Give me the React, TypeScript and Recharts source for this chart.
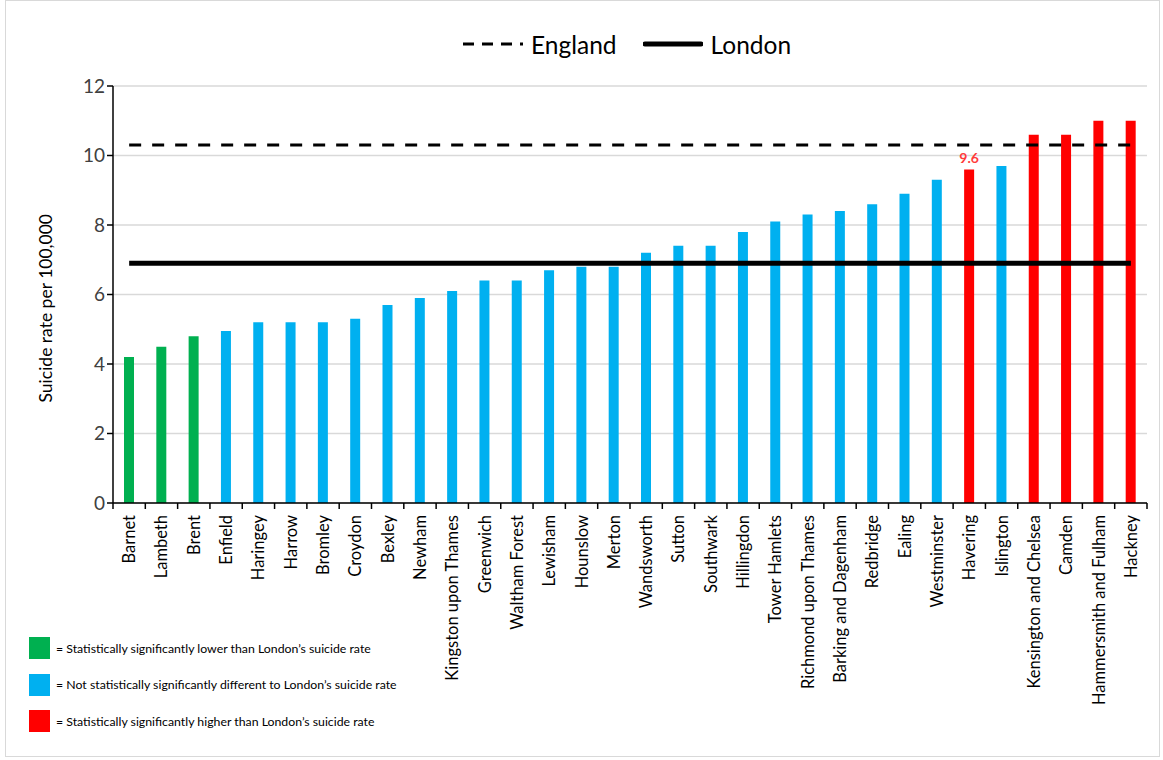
import React from 'react';
import { BarChart, Bar, XAxis, YAxis, CartesianGrid, Cell, LabelList, ReferenceLine } from 'recharts';

const boroughs = [
  'Barnet', 'Lambeth', 'Brent', 'Enfield', 'Haringey', 'Harrow', 'Bromley', 'Croydon',
  'Bexley', 'Newham', 'Kingston upon Thames', 'Greenwich', 'Waltham Forest', 'Lewisham',
  'Hounslow', 'Merton', 'Wandsworth', 'Sutton', 'Southwark', 'Hillingdon', 'Tower Hamlets',
  'Richmond upon Thames', 'Barking and Dagenham', 'Redbridge', 'Ealing', 'Westminster',
  'Havering', 'Islington', 'Kensington and Chelsea', 'Camden', 'Hammersmith and Fulham', 'Hackney',
];
const rates = [
  4.2, 4.5, 4.8, 4.95, 5.2, 5.2, 5.2, 5.3, 5.7, 5.9, 6.1, 6.4, 6.4, 6.7, 6.8, 6.8,
  7.2, 7.4, 7.4, 7.8, 8.1, 8.3, 8.4, 8.6, 8.9, 9.3, 9.6, 9.7, 10.6, 10.6, 11.0, 11.0,
];
// 0 = lower, 1 = not different, 2 = higher
const significance = [
  0, 0, 0, 1, 1, 1, 1, 1, 1, 1, 1, 1, 1, 1, 1, 1,
  1, 1, 1, 1, 1, 1, 1, 1, 1, 1, 2, 1, 2, 2, 2, 2,
];
const labelled = ['Havering'];
const englandRate = 10.3;
const londonRate = 6.9;
const yTicks = [0, 2, 4, 6, 8, 10, 12];

const SIG_COLORS = ['#00B050', '#00B0F0', '#FF0000'];
const SIG_TEXT = [
  '= Statistically significantly lower than London\u2019s suicide rate',
  '= Not statistically significantly different to London\u2019s suicide rate',
  '= Statistically significantly higher than London\u2019s suicide rate',
];
const FONT = 'Lato, "Open Sans", sans-serif';

const data = boroughs.map((name, i) => ({
  name,
  rate: rates[i],
  sig: significance[i],
  label: labelled.includes(name) ? rates[i].toFixed(1) : '',
}));

const step = (1147 - 113) / boroughs.length;

const XTick = (props: any) => {
  const { x, y, payload, index } = props;
  const last = index === boroughs.length - 1;
  return (
    <g>
      <line x1={x - step / 2} x2={x - step / 2} y1={y - 8} y2={y - 2} stroke="#000" strokeWidth={1.5} />
      {last && <line x1={x + step / 2} x2={x + step / 2} y1={y - 8} y2={y - 2} stroke="#000" strokeWidth={1.5} />}
      <text
        x={x}
        y={y + 4}
        transform={`rotate(-90, ${x}, ${y + 4})`}
        textAnchor="end"
        dominantBaseline="central"
        fontSize={16.5}
        fill="#000"
        fontFamily={FONT}
      >
        {payload.value}
      </text>
    </g>
  );
};

export default function App() {
  return (
    <div style={{ position: 'absolute', left: 0, top: 0, width: 1163, height: 760, background: '#fff', fontFamily: FONT }}>
      <div style={{ position: 'absolute', left: 5, top: 0, width: 1153, height: 755, border: '1px solid #d9d9d9' }} />
      <BarChart
        width={1163}
        height={760}
        data={data}
        margin={{ top: 86, right: 16, bottom: 77, left: 53 }}
        barSize={10}
      >
        <CartesianGrid vertical={false} stroke="#d9d9d9" strokeWidth={1.5} />
        <XAxis
          dataKey="name"
          interval={0}
          height={180}
          axisLine={{ stroke: '#000', strokeWidth: 1.5 }}
          tickLine={false}
          tick={<XTick />}
        />
        <YAxis
          domain={[0, 12]}
          ticks={yTicks}
          width={60}
          axisLine={{ stroke: '#000', strokeWidth: 1.5 }}
          tickLine={{ stroke: '#000', strokeWidth: 1.5 }}
          tickSize={6}
          tick={{ fontSize: 19, fill: '#404040', fontFamily: FONT }}
          label={{
            value: 'Suicide rate per 100,000',
            angle: -90,
            position: 'insideLeft',
            dx: -12,
            dy: 108,
            style: { fontSize: 17.5, fill: '#000', fontFamily: FONT },
          }}
        />
        <Bar dataKey="rate" isAnimationActive={false}>
          {data.map((d, i) => (
            <Cell key={`cell-${i}`} fill={SIG_COLORS[d.sig]} />
          ))}
          <LabelList
            dataKey="label"
            position="top"
            offset={6}
            style={{ fill: '#FF3B3B', fontSize: 14, fontWeight: 700, fontFamily: FONT }}
          />
        </Bar>
        <ReferenceLine
          segment={[{ x: boroughs[0], y: englandRate }, { x: boroughs[boroughs.length - 1], y: englandRate }]}
          stroke="#000"
          strokeWidth={3}
          strokeDasharray="12 11"
        />
        <ReferenceLine
          segment={[{ x: boroughs[0], y: londonRate }, { x: boroughs[boroughs.length - 1], y: londonRate }]}
          stroke="#000"
          strokeWidth={5}
        />
      </BarChart>

      <div style={{ position: 'absolute', left: 463, top: 29, height: 30, display: 'flex', alignItems: 'center', fontSize: 24.5, color: '#000' }}>
        <svg width={60} height={10}>
          <line x1={0} x2={60} y1={5} y2={5} stroke="#000" strokeWidth={3} strokeDasharray="11 8" />
        </svg>
        <span style={{ marginLeft: 8 }}>England</span>
        <svg width={60} height={10} style={{ marginLeft: 26 }}>
          <line x1={2} x2={58} y1={5} y2={5} stroke="#000" strokeWidth={5} strokeLinecap="round" />
        </svg>
        <span style={{ marginLeft: 8 }}>London</span>
      </div>

      {SIG_COLORS.map((c, i) => (
        <div key={c} style={{ position: 'absolute', left: 29, top: 637 + i * 36.5, display: 'flex', alignItems: 'center' }}>
          <div style={{ width: 21, height: 22, background: c }} />
          <span style={{ marginLeft: 6, fontSize: 12.3, color: '#000' }}>{SIG_TEXT[i]}</span>
        </div>
      ))}
    </div>
  );
}
